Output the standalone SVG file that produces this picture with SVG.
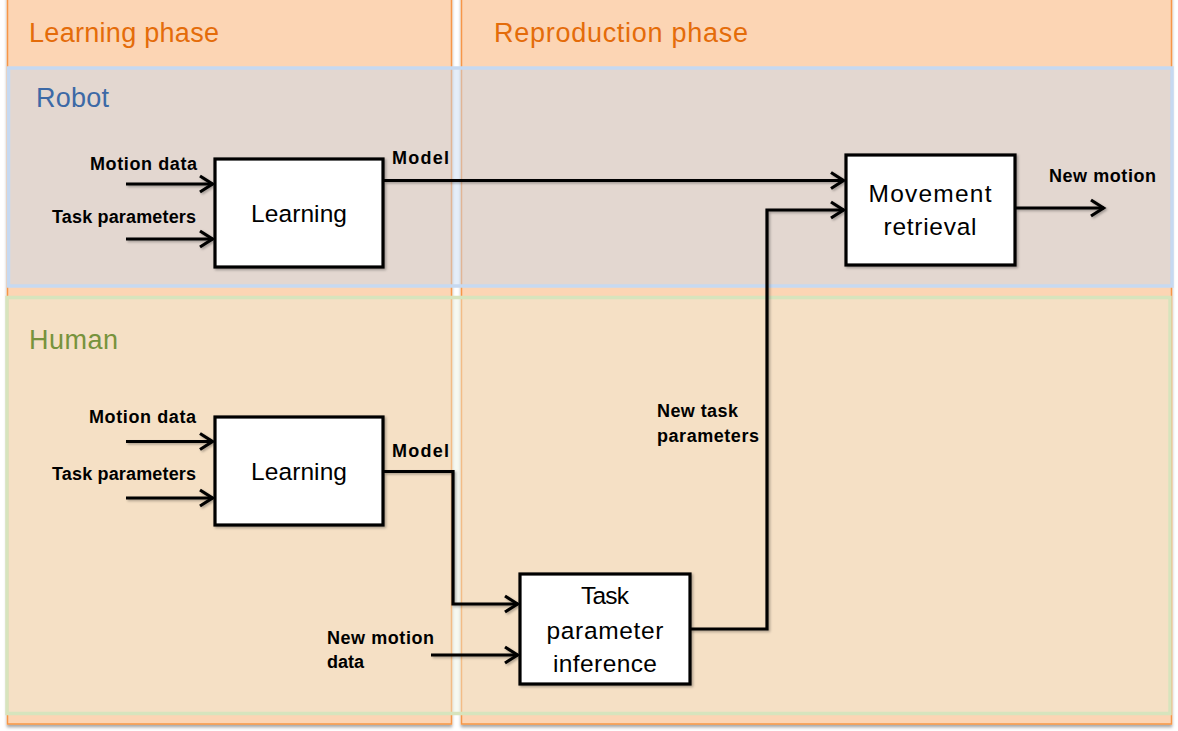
<svg xmlns="http://www.w3.org/2000/svg" width="1178" height="731" viewBox="0 0 1178 731">
  <style>
    .phase { fill: #fcd5b4; stroke: #f79646; stroke-width: 1.5; }
    .phase-title { font-family: "Liberation Sans", Arial, sans-serif; font-size: 27px; fill: #e46c0a; }
    .band-robot { fill: #c6d9f1; fill-opacity: 0.46; stroke: #c6d9f1; stroke-width: 3.5; }
    .band-human { fill: #ebf1de; fill-opacity: 0.42; stroke: #d7e4bd; stroke-width: 3.5; }
    .band-title { font-family: "Liberation Sans", Arial, sans-serif; font-size: 27px; }
    .box { fill: #ffffff; stroke: #000000; stroke-width: 3.2; }
    .box-text { font-family: "Liberation Sans", Arial, sans-serif; font-size: 24.5px; fill: #000000; text-anchor: middle; }
    .label { font-family: "Liberation Sans", Arial, sans-serif; font-size: 18px; font-weight: bold; fill: #000000; }
    .wire { fill: none; stroke: #000000; stroke-width: 3.2; stroke-linejoin: miter; }
  </style>
  <defs>
    <filter id="colShadow" x="-5%" y="-5%" width="110%" height="110%">
      <feDropShadow dx="0" dy="2.5" stdDeviation="1.5" flood-color="#000" flood-opacity="0.35"/>
    </filter>
    <filter id="softShadow" x="-10%" y="-10%" width="120%" height="120%">
      <feDropShadow dx="1.5" dy="1.5" stdDeviation="1" flood-color="#000" flood-opacity="0.3"/>
    </filter>
    <marker id="arrow" markerUnits="userSpaceOnUse" viewBox="0 0 18 20" markerWidth="18" markerHeight="20" refX="15" refY="10" orient="auto">
      <path d="M2,2 L14.5,10 L2,18" fill="none" stroke="#000" stroke-width="3.2"/>
    </marker>
  </defs>

  <rect x="0" y="0" width="1178" height="731" fill="#ffffff"/>

  <!-- phase columns -->
  <g id="phase-learning">
    <rect class="phase" x="7.5" y="-5" width="444" height="729" filter="url(#colShadow)"/>
    <text class="phase-title" x="29" y="42" textLength="190">Learning phase</text>
  </g>
  <g id="phase-reproduction">
    <rect class="phase" x="461.5" y="-5" width="710" height="729" filter="url(#colShadow)"/>
    <text class="phase-title" x="494" y="42" textLength="254">Reproduction phase</text>
  </g>

  <!-- agent bands -->
  <g id="band-robot">
    <rect class="band-robot" x="8.5" y="68" width="1163.5" height="218"/>
    <text class="band-title" x="36" y="107" fill="#3c69a6" textLength="73">Robot</text>
  </g>
  <g id="band-human">
    <rect class="band-human" x="7" y="297.5" width="1163" height="416"/>
    <text class="band-title" x="29" y="349" fill="#77933c" textLength="89">Human</text>
  </g>

  <!-- connectors -->
  <g id="connectors" filter="url(#softShadow)">
    <path class="wire" d="M126,184 H213" marker-end="url(#arrow)"/>
    <path class="wire" d="M126,239 H213" marker-end="url(#arrow)"/>
    <path class="wire" d="M384,180.5 H844" marker-end="url(#arrow)"/>
    <path class="wire" d="M690,629 H767 V210 H844" marker-end="url(#arrow)"/>
    <path class="wire" d="M1016,208 H1104" marker-end="url(#arrow)"/>
    <path class="wire" d="M126,441.5 H213" marker-end="url(#arrow)"/>
    <path class="wire" d="M126,498 H213" marker-end="url(#arrow)"/>
    <path class="wire" d="M384,471.5 H453 V604 H518" marker-end="url(#arrow)"/>
    <path class="wire" d="M431,655 H518" marker-end="url(#arrow)"/>
  </g>

  <!-- connector labels -->
  <g id="labels">
    <text class="label" x="90" y="170" textLength="107">Motion data</text>
    <text class="label" x="52" y="223" textLength="144">Task parameters</text>
    <text class="label" x="392" y="164" textLength="57">Model</text>
    <text class="label" x="1049" y="182" textLength="107">New motion</text>
    <text class="label" x="89" y="423" textLength="107">Motion data</text>
    <text class="label" x="52" y="480" textLength="144">Task parameters</text>
    <text class="label" x="392" y="457" textLength="57">Model</text>
    <text class="label" x="327" y="644" textLength="107">New motion</text>
    <text class="label" x="327" y="668" textLength="37">data</text>
    <text class="label" x="657" y="417" textLength="81">New task</text>
    <text class="label" x="657" y="442" textLength="102">parameters</text>
  </g>

  <!-- process nodes -->
  <g id="node-robot-learning">
    <rect class="box" x="215" y="159" width="168" height="108" filter="url(#softShadow)"/>
    <text class="box-text" x="299" y="222" textLength="96">Learning</text>
  </g>
  <g id="node-movement-retrieval">
    <rect class="box" x="846" y="155" width="169" height="110" filter="url(#softShadow)"/>
    <text class="box-text" x="930" y="202" textLength="123">Movement</text>
    <text class="box-text" x="930" y="235" textLength="93">retrieval</text>
  </g>
  <g id="node-human-learning">
    <rect class="box" x="215" y="417" width="168" height="108" filter="url(#softShadow)"/>
    <text class="box-text" x="299" y="480" textLength="96">Learning</text>
  </g>
  <g id="node-task-parameter-inference">
    <rect class="box" x="520" y="574" width="170" height="110" filter="url(#softShadow)"/>
    <text class="box-text" x="605" y="604" textLength="48">Task</text>
    <text class="box-text" x="605" y="639" textLength="117">parameter</text>
    <text class="box-text" x="605" y="672" textLength="104">inference</text>
  </g>
</svg>
